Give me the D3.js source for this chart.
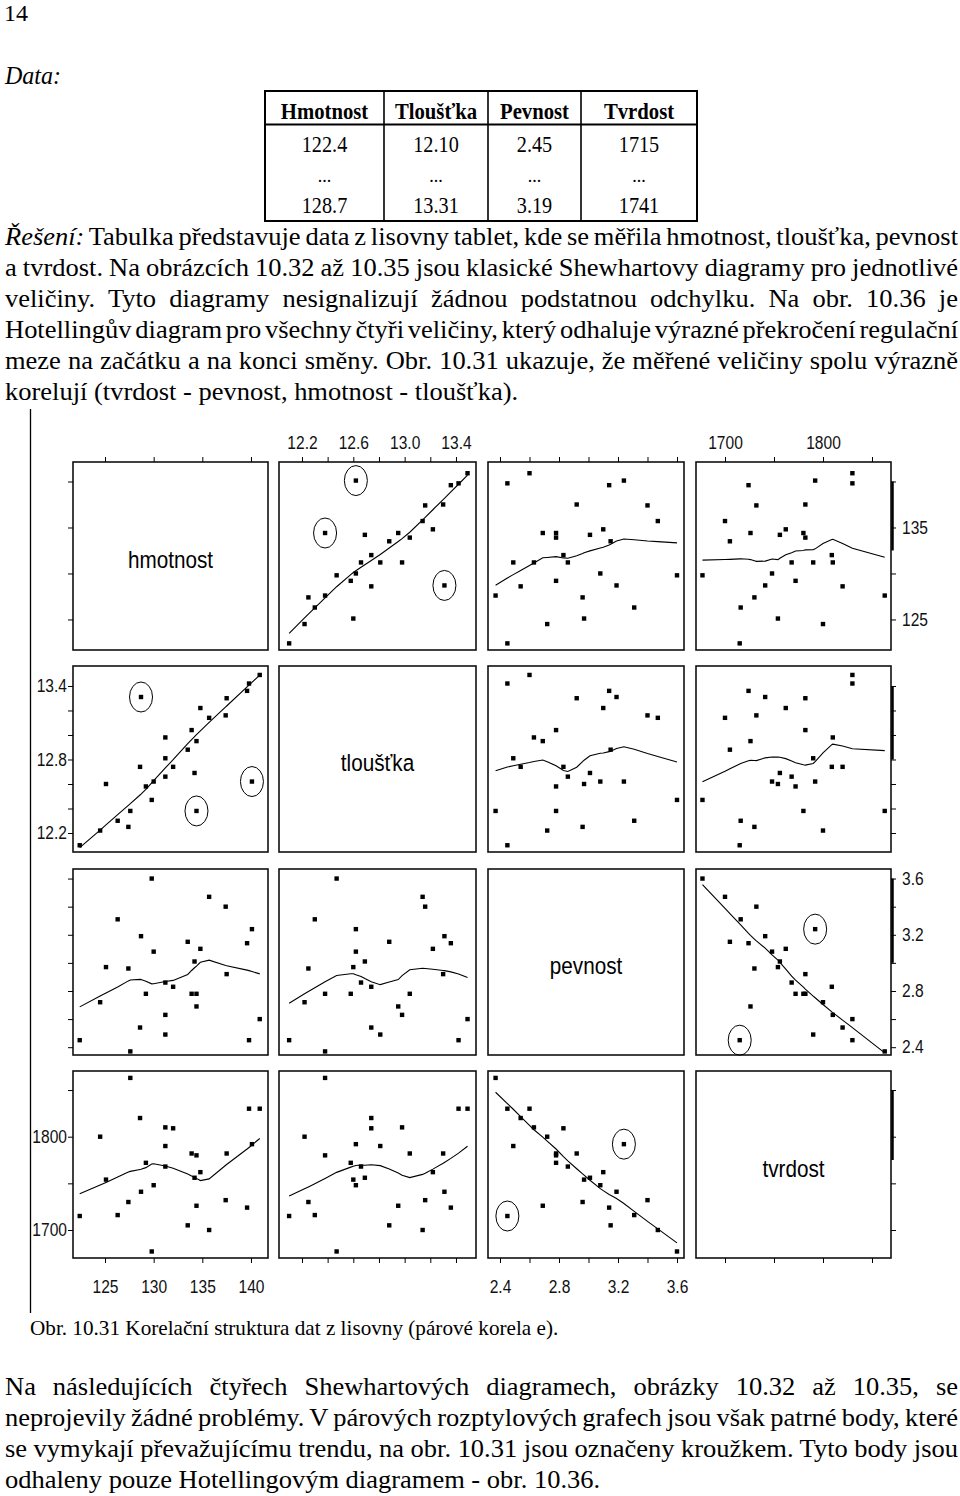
<!DOCTYPE html>
<html><head><meta charset="utf-8">
<script src="https://cdn.jsdelivr.net/npm/d3@7"></script>
<style>body{margin:0;background:#fff} svg{display:block}</style>
</head><body>
<svg id="c" width="960" height="1496"></svg>
<script>
// ---------------- DATA ----------------
const varNames = ["hmotnost", "tloušťka", "pevnost", "tvrdost"];
const hmotnost = [122.4,124.5,126.3,127.4,127.6,125.1,129.2,129.8,130.0,128.6,131.2,131.2,132.0,131.2,133.5,134.2,134.4,133.9,134.8,135.7,137.4,137.5,139.6,139.8,140.9,134.4,140.1,128.7];
const tloustka = [12.10,12.22,12.30,12.25,12.38,12.60,12.58,12.47,12.62,12.74,12.66,12.81,12.74,12.98,12.88,12.69,12.95,13.04,13.22,13.14,13.16,13.30,13.36,13.42,13.49,12.38,12.62,13.31];
const pevnost  = [2.45,2.72,3.31,2.96,2.37,2.97,2.78,3.60,3.08,2.54,2.86,2.49,2.83,2.63,3.15,3.01,2.69,2.78,3.10,3.47,3.40,2.92,3.14,2.45,2.60,2.78,3.24,3.19];
const tvrdost  = [1715,1800,1716,1730,1863,1754,1772,1677,1748,1820,1768,1790,1809,1810,1705,1756,1726,1782,1762,1700,1732,1782,1724,1830,1830,1780,1792,1741];
// observations marked with a circle (indices)
const circledHmTl = [25, 26, 27];
const circledPvTv = [0, 26];

// table
const tableHeader = ["Hmotnost", "Tloušťka", "Pevnost", "Tvrdost"];
const tableFirst = ["122.4", "12.10", "2.45", "1715"];
const tableLast = ["128.7", "13.31", "3.19", "1741"];

// axis ticks and labels
const tickVals = [[125,130,135,140],[12.2,12.4,12.6,12.8,13.0,13.2,13.4],[2.4,2.6,2.8,3.0,3.2,3.4,3.6],[1700,1750,1800,1850]];
const topLabels = [[], [12.2,12.6,13.0,13.4], [], [1700,1800]];
const bottomLabels = [[125,130,135,140], [], [2.4,2.8,3.2,3.6], []];
const leftLabels = [[], [12.2,12.8,13.4], [], [1700,1800]];
const rightLabels = [[125,135], [], [2.4,2.8,3.2,3.6], []];
const tickFormats = ["d", ".1f", ".1f", "d"];

// scale domains (x for columns, y for rows)
const xDomains = [[121.71,141.75],[12.021,13.556],[2.3186,3.6475],[1670.4,1869.4]];
const yDomains = [[121.68,142.12],[12.045,13.563],[2.3445,3.668],[1670.0,1870.4]];

// text
const topPara = [
  [["Řešení:", "italic"], [" Tabulka představuje data z lisovny tablet, kde se měřila hmotnost, tloušťka, pevnost", "normal"]],
  [["a tvrdost. Na obrázcích 10.32 až 10.35 jsou klasické Shewhartovy diagramy pro jednotlivé", "normal"]],
  [["veličiny. Tyto diagramy nesignalizují žádnou podstatnou odchylku. Na obr. 10.36 je", "normal"]],
  [["Hotellingův diagram pro všechny čtyři veličiny, který odhaluje výrazné překročení regulační", "normal"]],
  [["meze na začátku a na konci směny. Obr. 10.31 ukazuje, že měřené veličiny spolu výrazně", "normal"]],
  [["korelují (tvrdost - pevnost, hmotnost - tloušťka).", "normal"]]
];
const caption = "Obr. 10.31 Korelační struktura dat z lisovny (párové korela e).";
const bottomPara = [
  "Na následujících čtyřech Shewhartových diagramech, obrázky 10.32 až 10.35, se",
  "neprojevily žádné problémy. V párových rozptylových grafech jsou však patrné body, které",
  "se vymykají převažujícímu trendu, na obr. 10.31 jsou označeny kroužkem. Tyto body jsou",
  "odhaleny pouze Hotellingovým diagramem - obr. 10.36."
];

// ---------------- LAYOUT ----------------
const svg = d3.select("#c");
const serif = "Liberation Serif, Times New Roman, serif";
const sans = "Liberation Sans, Arial, sans-serif";
const cols = [[73,268],[279,476],[488,684],[696,891]];
const rows = [[462,650],[666,852],[869,1055],[1071,1258]];
const data = [hmotnost, tloustka, pevnost, tvrdost];

// ---------- header text ----------
function textLine(parts, x, y, size, sx, target) {
  const t = svg.append("text")
    .attr("transform", `translate(${x},${y}) scale(${sx},1)`)
    .attr("font-family", serif).attr("font-size", size).attr("fill", "#000")
    .attr("xml:space", "preserve");
  parts.forEach(p => t.append("tspan").attr("font-style", p[1]).text(p[0]));
  if (target) {
    const w = t.node().getComputedTextLength();
    const full = parts.map(p => p[0]).join("");
    const nsp = (full.match(/ /g) || []).length;
    const ws = (target / sx - w) / nsp;
    t.attr("word-spacing", ws);
  }
  return t;
}
textLine([["14", "normal"]], 4, 21, 24, 1.0);
textLine([["Data:", "italic"]], 5, 84, 25, 0.96);

// table
const tbl = svg.append("g");
const tX = [265, 384, 488, 581, 697];
tbl.append("rect").attr("x", 265).attr("y", 91).attr("width", 432).attr("height", 130)
  .attr("fill", "none").attr("stroke", "#000").attr("stroke-width", 2);
tX.slice(1, 4).forEach(x => tbl.append("line").attr("x1", x).attr("x2", x).attr("y1", 91).attr("y2", 221)
  .attr("stroke", "#000").attr("stroke-width", 1.6));
tbl.append("line").attr("x1", 265).attr("x2", 697).attr("y1", 124.5).attr("y2", 124.5)
  .attr("stroke", "#000").attr("stroke-width", 2.2);
tableHeader.forEach((h, i) => {
  const cx = (tX[i] + tX[i+1]) / 2;
  tbl.append("text").attr("transform", `translate(${cx},119) scale(0.9,1)`).attr("text-anchor", "middle")
    .attr("font-family", serif).attr("font-weight", "bold").attr("font-size", 23).text(h);
  tbl.append("text").attr("transform", `translate(${cx},152) scale(0.88,1)`).attr("text-anchor", "middle")
    .attr("font-family", serif).attr("font-size", 23).text(tableFirst[i]);
  tbl.append("text").attr("x", cx).attr("y", 182).attr("text-anchor", "middle")
    .attr("font-family", serif).attr("font-size", 18).text("...");
  tbl.append("text").attr("transform", `translate(${cx},213) scale(0.88,1)`).attr("text-anchor", "middle")
    .attr("font-family", serif).attr("font-size", 23).text(tableLast[i]);
});

const paraY = [245, 276, 307, 338, 369, 400];
topPara.forEach((parts, i) => textLine(parts, 5, paraY[i], 25, 1.06, i < topPara.length - 1 ? 953 : null));

// margin line
svg.append("line").attr("x1", 30.5).attr("x2", 30.5).attr("y1", 409).attr("y2", 1313)
  .attr("stroke", "#000").attr("stroke-width", 1.3);

// ---------- LOWESS ----------
function lowess(xs, ys, f = 2/3, iter = 3) {
  const n = xs.length;
  const idx = d3.range(n).sort((a, b) => xs[a] - xs[b]);
  const x = idx.map(i => xs[i]), y = idx.map(i => ys[i]);
  const range = x[n-1] - x[0];
  const delta = 0.01 * range;
  const ns = Math.max(2, Math.min(n, Math.floor(f * n + 1e-7)));
  const fit = new Array(n).fill(0), res = new Array(n).fill(0), rw = new Array(n).fill(1), w = new Array(n).fill(0);
  function lowest(xsv, nleft, nright, userw) {
    const h = Math.max(xsv - x[nleft], x[nright] - xsv);
    const h9 = 0.999 * h, h1 = 0.001 * h;
    let a = 0, j = nleft;
    while (j < n) {
      w[j] = 0;
      const r = Math.abs(x[j] - xsv);
      if (r <= h9) {
        w[j] = r <= h1 ? 1 : Math.pow(1 - Math.pow(r / h, 3), 3);
        if (userw) w[j] *= rw[j];
        a += w[j];
      } else if (x[j] > xsv) break;
      j++;
    }
    const nrt = j - 1;
    if (a <= 0) return null;
    for (j = nleft; j <= nrt; j++) w[j] /= a;
    if (h > 0) {
      a = 0;
      for (j = nleft; j <= nrt; j++) a += w[j] * x[j];
      let b = xsv - a, c = 0;
      for (j = nleft; j <= nrt; j++) c += w[j] * (x[j] - a) * (x[j] - a);
      if (Math.sqrt(c) > 0.001 * range) {
        b /= c;
        for (j = nleft; j <= nrt; j++) w[j] *= (b * (x[j] - a) + 1);
      }
    }
    let v = 0;
    for (j = nleft; j <= nrt; j++) v += w[j] * y[j];
    return v;
  }
  for (let it = 1; it <= iter + 1; it++) {
    let nleft = 0, nright = ns - 1, last = -1, i = 0;
    for (;;) {
      if (nright < n - 1) {
        const d1 = x[i] - x[nleft], d2 = x[nright+1] - x[i];
        if (d1 > d2) { nleft++; nright++; continue; }
      }
      const v = lowest(x[i], nleft, nright, it > 1);
      fit[i] = v === null ? y[i] : v;
      if (last < i - 1) {
        const denom = x[i] - x[last];
        for (let j = last + 1; j < i; j++) {
          const al = (x[j] - x[last]) / denom;
          fit[j] = al * fit[i] + (1 - al) * fit[last];
        }
      }
      last = i;
      const cut = x[last] + delta;
      for (i = last + 1; i < n; i++) {
        if (x[i] > cut) break;
        if (x[i] === x[last]) { fit[i] = fit[last]; last = i; }
      }
      i = Math.max(last + 1, i - 1);
      if (last >= n - 1) break;
    }
    for (let k = 0; k < n; k++) res[k] = y[k] - fit[k];
    if (it > iter) break;
    const ar = res.map(Math.abs);
    const s = ar.slice().sort((a, b) => a - b);
    const m1 = Math.floor(n / 2);
    const cmad = n % 2 === 0 ? 3 * (s[m1] + s[n - m1 - 1]) : 6 * s[m1];
    const sc = d3.mean(ar);
    if (cmad < 1e-7 * sc) break;
    const c9 = 0.999 * cmad, c1 = 0.001 * cmad;
    for (let k = 0; k < n; k++) {
      const r = ar[k];
      rw[k] = r <= c1 ? 1 : r <= c9 ? Math.pow(1 - Math.pow(r / cmad, 2), 2) : 0;
    }
  }
  return x.map((xv, k) => [xv, fit[k]]);
}

// ---------- SCATTER MATRIX ----------
const xScales = xDomains.map((d, i) => d3.scaleLinear().domain(d).range(cols[i]));
const yScales = yDomains.map((d, i) => d3.scaleLinear().domain(d).range([rows[i][1], rows[i][0]]));
const sx = 0.82;

function drawAxis(type, scale, ticks, labels, fmtStr, tx, ty) {
  const gen = {top: d3.axisTop, bottom: d3.axisBottom, left: d3.axisLeft, right: d3.axisRight}[type];
  const fmt = d3.format(fmtStr);
  const ax = gen(scale).tickValues(ticks).tickSize(5).tickPadding(0)
    .tickFormat(d => labels.some(l => Math.abs(l - d) < 1e-9) ? fmt(d) : "");
  const g = svg.append("g").attr("transform", `translate(${tx},${ty})`).call(ax);
  g.select(".domain").remove();
  g.attr("font-family", sans).attr("font-size", 19);
  g.selectAll("line").attr("stroke", "#000").attr("stroke-width", 1);
  const t = g.selectAll("text").attr("fill", "#111").attr("dy", null);
  if (type === "top") t.attr("y", -13).attr("transform", `scale(${sx},1)`);
  if (type === "bottom") t.attr("y", 35).attr("transform", `scale(${sx},1)`);
  if (type === "left") t.attr("x", -6 / sx).attr("dy", "0.3em").attr("transform", `scale(${sx},1)`);
  if (type === "right") t.attr("x", 11 / sx).attr("dy", "0.3em").attr("transform", `scale(${sx},1)`);
}

const line = d3.line();
for (let r = 0; r < 4; r++) {
  for (let c = 0; c < 4; c++) {
    const [x0, x1] = cols[c], [y0, y1] = rows[r];
    const g = svg.append("g");
    g.append("rect").attr("x", x0).attr("y", y0).attr("width", x1 - x0).attr("height", y1 - y0)
      .attr("fill", "none").attr("stroke", "#111").attr("stroke-width", 1.6);
    if (r === c) {
      g.append("text")
        .attr("transform", `translate(${(x0 + x1) / 2},${(y0 + y1) / 2 + 12}) scale(0.9,1.05)`)
        .attr("text-anchor", "middle").attr("font-family", sans).attr("font-size", 23)
        .attr("fill", "#000").text(varNames[r]);
      continue;
    }
    const xs = xScales[c], ys = yScales[r];
    const X = data[c], Y = data[r];
    // smooth
    const sm = lowess(X, Y);
    g.append("path").attr("d", line(sm.map(p => [xs(p[0]), ys(p[1])])))
      .attr("fill", "none").attr("stroke", "#000").attr("stroke-width", 1.1);
    // points
    g.selectAll("rect.pt").data(d3.range(X.length)).join("rect").attr("class", "pt")
      .attr("x", i => xs(X[i]) - 2.2).attr("y", i => ys(Y[i]) - 2.2)
      .attr("width", 4.4).attr("height", 4.4).attr("fill", "#000");
    // circles
    let circ = [];
    if ((r === 0 && c === 1) || (r === 1 && c === 0)) circ = circledHmTl;
    if ((r === 2 && c === 3) || (r === 3 && c === 2)) circ = circledPvTv;
    g.selectAll("ellipse").data(circ).join("ellipse")
      .attr("cx", i => xs(X[i])).attr("cy", i => ys(Y[i]))
      .attr("rx", 11.5).attr("ry", 15)
      .attr("fill", "none").attr("stroke", "#000").attr("stroke-width", 1);
  }
}

// outer axes
for (let c = 0; c < 4; c++) {
  drawAxis("top", xScales[c], tickVals[c], topLabels[c], tickFormats[c], 0, rows[0][0]);
  drawAxis("bottom", xScales[c], tickVals[c], bottomLabels[c], tickFormats[c], 0, rows[3][1]);
}
for (let r = 0; r < 4; r++) {
  drawAxis("left", yScales[r], tickVals[r], leftLabels[r], tickFormats[r], cols[0][0], 0);
  drawAxis("right", yScales[r], tickVals[r], rightLabels[r], tickFormats[r], cols[3][1], 0);
  const tv = tickVals[r];
  const top = d3.max(tv), mid = (d3.min(tv) + d3.max(tv)) / 2;
  svg.append("line").attr("x1", cols[3][1] + 1.5).attr("x2", cols[3][1] + 1.5)
    .attr("y1", yScales[r](top)).attr("y2", yScales[r](mid))
    .attr("stroke", "#000").attr("stroke-width", 2.5);
}

// ---------- caption and closing text ----------
textLine([[caption, "normal"]], 30, 1335, 20, 1.06);
const botY = [1395, 1426, 1457, 1488];
bottomPara.forEach((s, i) => textLine([[s, "normal"]], 5, botY[i], 25, 1.06, i < bottomPara.length - 1 ? 953 : null));
</script>
</body></html>
